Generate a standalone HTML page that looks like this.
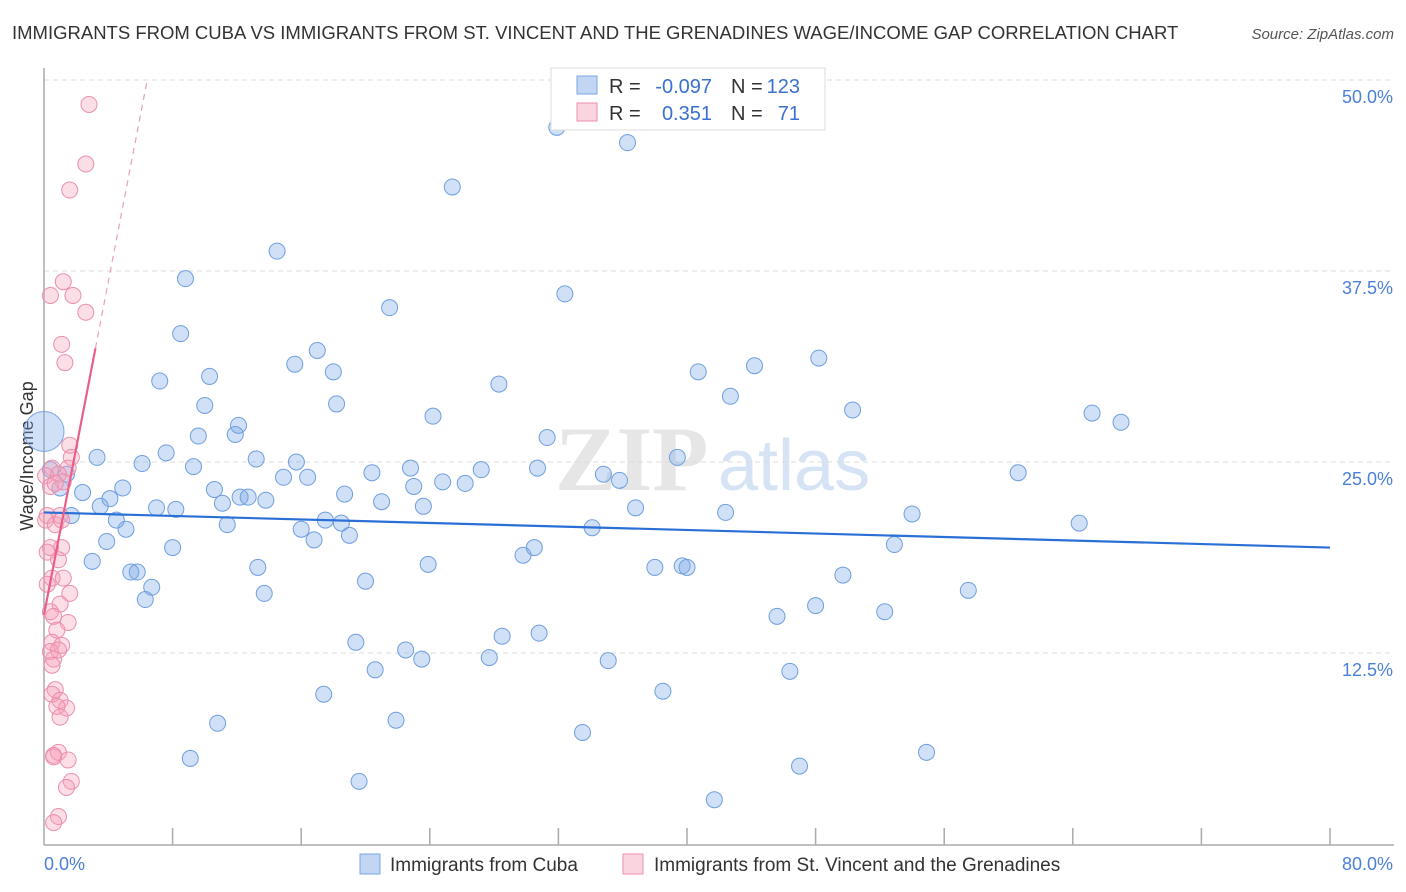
<!DOCTYPE html>
<html><head><meta charset="utf-8">
<style>
body{margin:0;background:#fff;font-family:"Liberation Sans",sans-serif;}
#wrap{position:relative;width:1406px;height:892px;overflow:hidden;}
</style></head>
<body>
<div id="wrap">
<svg id="chart" width="1406" height="892" xmlns="http://www.w3.org/2000/svg"></svg>
</div>
<script>
const cubaX=[31.9,36.3,25.4,14.5,8.8,32.4,21.5,8.5,17.0,15.6,18.0,48.2,44.2,40.7,10.3,7.2,28.3,42.7,10.0,18.2,50.3,65.2,67.0,24.2,12.1,11.9,9.6,31.3,7.6,3.3,13.2,6.1,15.7,39.4,9.3,22.8,27.2,30.7,20.4,60.6,34.8,14.9,16.4,35.8,24.8,26.2,23.0,4.9,10.6,2.4,18.7,12.2,12.7,4.1,13.8,21.0,11.1,3.5,23.6,36.8,7.0,8.2,42.4,54.0,1.7,4.5,17.5,18.5,11.4,64.4,16.0,5.1,34.1,19.0,16.8,3.9,52.9,8.0,30.5,29.8,3.0,23.9,13.3,38.0,39.7,40.0,5.4,5.8,49.7,20.0,6.7,57.5,13.7,6.3,48.0,52.3,45.6,28.5,30.8,19.4,22.5,23.5,27.7,35.1,20.6,46.4,38.5,17.4,10.8,21.9,33.5,9.1,54.9,47.0,19.6,41.7,1.4,1.0,0.4];
const cubaY=[46.9,45.9,43.0,38.8,37.0,36.0,35.1,33.4,32.3,31.4,30.9,31.8,31.3,30.9,30.6,30.3,30.1,29.3,28.7,28.8,28.4,28.2,27.6,28.0,27.4,26.8,26.7,26.6,25.6,25.3,25.2,24.9,25.0,25.3,24.7,24.6,24.5,24.6,24.3,24.3,24.2,24.0,24.0,23.8,23.7,23.6,23.4,23.3,23.2,23.0,22.9,22.7,22.7,22.6,22.5,22.4,22.3,22.1,22.1,22.0,22.0,21.9,21.7,21.6,21.5,21.2,21.2,21.0,20.9,21.0,20.6,20.6,20.7,20.2,19.9,19.8,19.6,19.4,19.4,18.9,18.5,18.3,18.1,18.1,18.2,18.1,17.8,17.8,17.6,17.2,16.8,16.6,16.4,16.0,15.6,15.2,14.9,13.6,13.8,13.2,12.7,12.1,12.2,12.0,11.4,11.3,10.0,9.8,7.9,8.1,7.3,5.6,6.0,5.1,4.1,2.9,24.2,23.3,24.5];
const vinX=[2.8,2.6,1.6,1.2,0.4,1.8,2.6,1.1,1.3,1.6,1.7,0.5,1.5,0.9,0.1,1.2,0.4,0.7,0.2,1.0,0.1,0.7,1.1,1.1,0.4,0.2,0.9,0.5,1.2,0.2,1.6,1.0,0.4,0.6,1.5,0.8,0.5,1.1,0.4,0.9,0.6,0.5,0.7,0.5,1.0,1.4,0.8,1.0,0.6,0.9,0.6,1.5,1.7,1.4,0.9,0.6];
const vinY=[48.4,44.5,42.8,36.8,35.9,35.9,34.8,32.7,31.5,26.1,25.3,24.6,24.6,24.2,24.1,23.7,23.4,23.6,21.5,21.5,21.2,20.9,21.2,19.4,19.4,19.1,18.6,17.4,17.4,17.0,16.4,15.7,15.2,14.9,14.5,14.0,13.2,13.0,12.6,12.7,12.1,11.7,10.1,9.8,9.4,8.9,9.0,8.3,5.8,6.0,5.7,5.5,4.1,3.7,1.8,1.4];
const cubaTrend=[21.7,19.4];
const vinTrend=[15.0,5.45];
const yTicks=[12.5,25.0,37.5,50.0];
const xTickCount=10;

const svg=document.getElementById('chart');
const NS='http://www.w3.org/2000/svg';
const X0=44,X1=1330,Y0=844,Y50=80;
const xs=v=>X0+(v/80)*(X1-X0);
const ys=v=>Y0-(v/50)*(Y0-Y50);
function mk(tag,attrs,parent){const e=document.createElementNS(NS,tag);for(const k in attrs)e.setAttribute(k,attrs[k]);(parent||svg).appendChild(e);return e;}

// title
let t=mk('text',{x:12,y:39,'font-size':18.5,fill:'#333','font-family':'Liberation Sans, sans-serif'});
t.textContent='IMMIGRANTS FROM CUBA VS IMMIGRANTS FROM ST. VINCENT AND THE GRENADINES WAGE/INCOME GAP CORRELATION CHART';


t=mk('text',{x:1394,y:39,'font-size':15,fill:'#555','text-anchor':'end','font-style':'italic'});
t.textContent='Source: ZipAtlas.com';



// watermark
t=mk('text',{x:555,y:490,'font-size':92,fill:'#e6e6e6','font-family':'Liberation Serif, serif','font-weight':'bold'});
t.textContent='ZIP';


t=mk('text',{x:718,y:490,'font-size':72,fill:'#d6e3f5'});
t.textContent='atlas';



// gridlines and y labels
yTicks.forEach(v=>{
  const l=mk('line',{x1:X0,x2:1394,y1:ys(v),y2:ys(v),stroke:'#dcdcdc','stroke-dasharray':'5,4'});
  
  
  const tx=mk('text',{x:1393,y:ys(v)+23,'font-size':18,fill:'#4a80d8','text-anchor':'end'});
  tx.textContent=v.toFixed(1)+'%';
  
  
});
// axes
let a=mk('line',{x1:X0,x2:X0,y1:68,y2:845,stroke:'#aaa','stroke-width':1.5});


a=mk('line',{x1:X0,x2:1394,y1:845,y2:845,stroke:'#aaa','stroke-width':1.5});


for(let i=1;i<=xTickCount;i++){
  const tk=mk('line',{x1:xs(i*8),x2:xs(i*8),y1:828,y2:845,stroke:'#aaa','stroke-width':1.5});
  
  
}
t=mk('text',{x:44,y:870,'font-size':18,fill:'#4a80d8'});t.textContent='0.0%';


t=mk('text',{x:1393,y:870,'font-size':18,fill:'#4a80d8','text-anchor':'end'});t.textContent='80.0%';


t=mk('text',{x:33,y:456,'font-size':18,fill:'#333','text-anchor':'middle',transform:'rotate(-90 33 456)'});t.textContent='Wage/Income Gap';



// points
const big=mk('circle',{cx:xs(0),cy:ys(27.0),r:20,fill:'rgba(120,165,230,0.35)',stroke:'#7aa6e4','stroke-width':1});


cubaX.forEach((x,i)=>{
  const c=mk('circle',{cx:xs(x),cy:ys(cubaY[i]),r:8,fill:'rgba(120,165,230,0.35)',stroke:'#6f9fe0','stroke-width':1});
  
  
});
vinX.forEach((x,i)=>{
  const c=mk('circle',{cx:xs(x),cy:ys(vinY[i]),r:8,fill:'rgba(245,160,185,0.35)',stroke:'#ec8fab','stroke-width':1});
  
  
});
// trend lines
let tl=mk('line',{x1:xs(0),y1:ys(cubaTrend[0]),x2:xs(80),y2:ys(cubaTrend[1]),stroke:'#2a6fd6','stroke-width':2.2});


const vf=x=>vinTrend[0]+vinTrend[1]*x;
tl=mk('line',{x1:xs(0),y1:ys(vf(0)),x2:xs(3.2),y2:ys(vf(3.2)),stroke:'#e8608a','stroke-width':2.2});


tl=mk('line',{x1:xs(3.2),y1:ys(vf(3.2)),x2:xs(6.4),y2:ys(vf(6.4)),stroke:'#e8a0b5','stroke-width':1.2,'stroke-dasharray':'6,5'});



// top legend
const lg=mk('g',{});


mk('rect',{x:551,y:68,width:274,height:62,fill:'#fff',stroke:'#ddd'},lg);
mk('rect',{x:577,y:76,width:20,height:18,fill:'rgba(120,165,230,0.45)',stroke:'#7aa6e4'},lg);
mk('rect',{x:577,y:103,width:20,height:18,fill:'rgba(245,160,185,0.45)',stroke:'#ec8fab'},lg);
function lt(x,y,s,c,anchor){const e=mk('text',{x:x,y:y,'font-size':20,fill:c,'text-anchor':anchor||'start'},lg);e.textContent=s;return e;}
lt(609,93,'R =','#333');lt(712,93,'-0.097','#3a70d0','end');lt(731,93,'N =','#333');lt(800,93,'123','#3a70d0','end');
lt(609,120,'R =','#333');lt(712,120,'0.351','#3a70d0','end');lt(731,120,'N =','#333');lt(800,120,'71','#3a70d0','end');

// bottom legend
const bl=mk('g',{});


const b1=mk('rect',{x:360,y:854,width:20,height:20,fill:'rgba(120,165,230,0.45)',stroke:'#7aa6e4'},bl);


t=mk('text',{x:390,y:871,'font-size':19,fill:'#333'},bl);t.textContent='Immigrants from Cuba';


const b2=mk('rect',{x:623,y:854,width:20,height:20,fill:'rgba(245,160,185,0.45)',stroke:'#ec8fab'},bl);


t=mk('text',{x:654,y:871,'font-size':19,fill:'#333'},bl);t.textContent='Immigrants from St. Vincent and the Grenadines';


</script>
</body></html>
